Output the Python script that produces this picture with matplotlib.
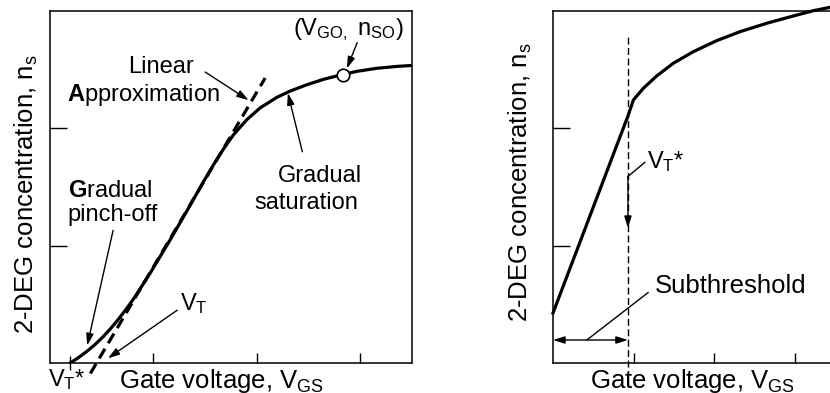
import numpy as np
import matplotlib
matplotlib.use("Agg")
import matplotlib.pyplot as plt

plt.rcParams['font.family'] = ['Liberation Sans', 'DejaVu Sans']
plt.rcParams['mathtext.fontset'] = 'custom'
plt.rcParams['mathtext.rm'] = 'Liberation Sans'
plt.rcParams['mathtext.it'] = 'Liberation Sans'
plt.rcParams['mathtext.bf'] = 'Liberation Sans:bold'

# left: gradual pinch-off / saturation curve
ns_vgs = [0.194, 0.274, 0.355, 0.436, 0.516, 0.581, 0.646, 0.726, 0.807, 0.968,
          1.162, 1.323, 1.484, 1.581, 1.678, 1.774, 1.904, 2.033, 2.195, 2.323,
          2.485, 2.646, 2.824, 2.969, 3.163, 3.356, 3.485]
ns_vals = [0.0, 0.045, 0.098, 0.158, 0.226, 0.288, 0.356, 0.446, 0.545, 0.765,
           1.050, 1.295, 1.546, 1.690, 1.825, 1.945, 2.075, 2.175, 2.265, 2.318,
           2.372, 2.418, 2.458, 2.486, 2.512, 2.528, 2.535]
vt_star = 0.19
vt = 0.45
lin_slope = 1.49
lin_range = [0.39, 2.08]
vgo, nso = 2.83, 2.458

# right: linear charge control with saturation
r_vgs = [0.0, 0.935, 0.998, 1.122, 1.288, 1.494, 1.743, 2.034, 2.323, 2.655,
         2.985, 3.234, 3.441]
r_ns = [0.426, 2.114, 2.242, 2.342, 2.447, 2.555, 2.654, 2.748, 2.824, 2.896,
        2.958, 3.003, 3.032]
r_vt_star = 0.93
sub_level = 0.196

xticks = [1, 2, 3]
yticks = [1, 2]

lab_fs = 18.5
ann_fs = 17
arrow = dict(arrowstyle='-|>,head_length=0.7,head_width=0.22', lw=1, color='black',
             shrinkA=0, shrinkB=0)

fig = plt.figure(figsize=(8.3, 3.93), dpi=100)
ax1 = fig.add_axes([50/830, 30/393, 362/830, 352/393])
ax2 = fig.add_axes([553/830, 30/393, 282/830, 352/393])

ylab_x = {ax1: -0.065, ax2: -0.117}
ylab_y = {ax1: 0.48, ax2: 0.515}
xlab_x = {ax1: 0.475, ax2: 0.496}
for ax in (ax1, ax2):
    ax.set_xlim(0, 3.5)
    ax.set_ylim(0, 3)
    ax.set_xticks(xticks)
    ax.set_yticks(yticks)
    ax.set_xticklabels([])
    ax.set_yticklabels([])
    ax.tick_params(axis='x', direction='in', length=7, width=1)
    ax.tick_params(axis='y', direction='in', length=12, width=1)
    for s in ax.spines.values():
        s.set_linewidth(1.1)
    ax.text(ylab_x[ax], ylab_y[ax], r'2-DEG concentration, n$_\mathregular{s}$',
            rotation=90, transform=ax.transAxes, ha='center', va='center',
            fontsize=lab_fs)
    ax.text(xlab_x[ax], -0.05, r'Gate voltage, V$_\mathregular{GS}$',
            transform=ax.transAxes, ha='center', va='center', fontsize=lab_fs)

# ---- left panel ----
ax1.plot(ns_vgs, ns_vals, color='black', lw=2.3, solid_capstyle='round',
         solid_joinstyle='round', zorder=3)
lx = np.array(lin_range)
ax1.plot(lx, lin_slope * (lx - vt), color='black', lw=2.3, dashes=(3.5, 2),
         clip_on=False, zorder=3)
ax1.plot([vgo], [nso], 'o', ms=9, mfc='white', mec='black', mew=1.2, zorder=4)

ax1.set_xticks([vt_star], minor=True)
ax1.tick_params(axis='x', which='minor', direction='inout', length=10, width=1)
ax1.text(vt_star - 0.03, -0.048, r'V$_\mathregular{T}$*', ha='center', va='center',
         transform=ax1.get_xaxis_transform(), fontsize=ann_fs)

ax1.text(2.88, 2.84, r'(V$_\mathregular{GO,}$ n$_\mathregular{SO}$)', ha='center',
         va='center', fontsize=ann_fs)
ax1.annotate('', xy=(2.87, 2.51), xytext=(2.97, 2.73), arrowprops=arrow)

ax1.text(0.755, 2.52, 'Linear', ha='left', va='center', fontsize=ann_fs)
ax1.text(0.165, 2.28, r'$\mathbf{A}$pproximation', ha='left', va='center',
         fontsize=ann_fs)
ax1.annotate('', xy=(1.92, 2.24), xytext=(1.50, 2.48), arrowprops=arrow)

ax1.text(2.20, 1.59, 'Gradual', ha='left', va='center', fontsize=ann_fs)
ax1.text(1.98, 1.36, 'saturation', ha='left', va='center', fontsize=ann_fs)
ax1.annotate('', xy=(2.30, 2.30), xytext=(2.44, 1.80), arrowprops=arrow)

ax1.text(0.17, 1.47, r'$\mathbf{G}$radual', ha='left', va='center', fontsize=ann_fs)
ax1.text(0.17, 1.26, 'pinch-off', ha='left', va='center', fontsize=ann_fs)
ax1.annotate('', xy=(0.36, 0.15), xytext=(0.61, 1.13), arrowprops=arrow)

ax1.text(1.26, 0.51, r'V$_\mathregular{T}$', ha='left', va='center', fontsize=ann_fs)
ax1.annotate('', xy=(0.56, 0.04), xytext=(1.23, 0.45), arrowprops=arrow)

# ---- right panel ----
ax2.spines['right'].set_visible(False)
ax2.plot(r_vgs, r_ns, color='black', lw=2.3, clip_on=False,
         solid_joinstyle='round', zorder=3)
ax2.plot([r_vt_star, r_vt_star], [-0.03, 2.78], color='black', lw=1, dashes=(5, 2.5),
         clip_on=False)
ax2.plot([1.14, r_vt_star], [1.71, 1.59], color='black', lw=1)
ax2.annotate('', xy=(r_vt_star, 1.15), xytext=(r_vt_star, 1.59), arrowprops=arrow)
ax2.text(1.17, 1.72, r'V$_\mathregular{T}$*', ha='left', va='center', fontsize=ann_fs)

ax2.annotate('', xy=(r_vt_star, sub_level), xytext=(0, sub_level),
             arrowprops=dict(arrowstyle='<|-|>,head_length=0.7,head_width=0.22', lw=1,
                             color='black', shrinkA=0, shrinkB=0))
ax2.plot([0.42, 1.18], [sub_level, 0.60], color='black', lw=1)
ax2.text(1.26, 0.66, 'Subthreshold', ha='left', va='center', fontsize=lab_fs)

fig.savefig('out.png', dpi=100)
